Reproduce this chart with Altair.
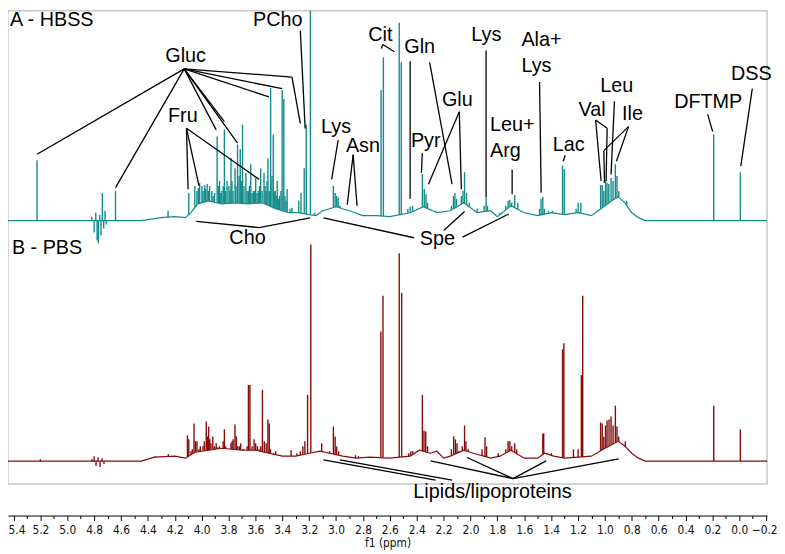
import altair as alt
import numpy as np
import pandas as pd

# ---------------- data (ppm, peak height above spectrum baseline) ----------------
hbss_ppm = [5.225,
            4.817, 4.800, 4.788, 4.778, 4.769, 4.758, 4.749, 4.739, 4.729, 4.719, 4.710,
            4.641, 4.250, 4.096,
            4.051, 4.015, 3.998, 3.978, 3.959, 3.941, 3.924, 3.904, 3.885, 3.867,
            3.850, 3.831, 3.811, 3.797, 3.782, 3.767, 3.752, 3.733, 3.713, 3.696,
            3.671, 3.652, 3.635, 3.615, 3.598, 3.578, 3.561, 3.536, 3.521, 3.507,
            3.487, 3.467, 3.453, 3.438, 3.420, 3.401, 3.389, 3.364, 3.342, 3.328,
            3.305, 3.278, 3.261, 3.237, 3.222, 3.191, 3.158, 3.107,
            3.062, 3.020, 3.007, 2.996, 2.984, 2.970, 2.952, 2.910, 2.878, 2.849, 2.819, 2.775,
            2.665, 2.648, 2.530, 2.515,
            2.466, 2.449, 2.431, 2.418,
            2.358, 2.344, 2.331, 2.319, 2.297,
            2.260, 2.223, 2.186,
            2.142, 2.127, 2.116, 2.105, 2.090, 2.068, 2.056, 2.044, 2.029, 2.009,
            1.950, 1.899, 1.884, 1.873,
            1.781, 1.737, 1.720, 1.707, 1.693, 1.671, 1.648,
            1.486, 1.475, 1.462, 1.450, 1.420, 1.391,
            1.315, 1.302,
            1.214, 1.199, 1.179,
            1.052, 1.032, 1.020, 1.008, 0.995, 0.984, 0.971, 0.954, 0.939, 0.922, 0.910, 0.897,
            0.838, 0.816, 0.765,
            0.190, -0.008,
            4.035, 4.025, 3.990, 3.970, 3.950, 3.915, 3.875, 3.858, 3.840, 3.822,
            3.790, 3.775, 3.745, 3.722, 3.705, 3.685, 3.662, 3.645, 3.625, 3.606,
            3.588, 3.570, 3.550, 3.528, 3.514, 3.497, 3.477, 3.460, 3.445, 3.430,
            3.410, 3.380, 3.372]
hbss_h = [61,
          4, -12, 8, -20, -23, 6, -15, 28, -8, 10, -4,
          30, 10, 28,
          35, 38, 35, 36, 37, 35, 30, 28, 85, 40,
          30, 92, 40, 35, 63, 30, 53, 77, 72, 97,
          48, 30, 57, 30, 43, 30, 53, 48, 30, 63,
          134, 87, 30, 40, 25, 132, 123, 32, 12, 13,
          8, 20, 28, 53, 97, 300, 8, 10,
          8, 35, 28, 25, 23, 15, 10, 5, 4, 5, 4, 3,
          132, 165, 200, 160,
          12, 14, 15, 10,
          47, 32, 27, 18, 12,
          10, 8, 8,
          15, 25, 28, 22, 15, 25, 30, 49, 28, 18,
          12, 15, 23, 15,
          8, 15, 20, 21, 18, 26, 18,
          12, 22, 24, 12, 10, 10,
          56, 52,
          12, 18, 18,
          10, 36, 36, 30, 40, 38, 37, 43, 40, 57, 45, 30,
          20, 12, 5,
          87, 49,
          30, 33, 30, 32, 30, 25, 35, 28, 35, 30,
          30, 40, 35, 45, 40, 35, 30, 35, 28, 30,
          28, 35, 30, 35, 40, 30, 45, 30, 25, 22,
          30, 25, 20]

hbss_base_ppm = [-0.207, 0.60, 0.70, 0.75, 0.80, 0.85, 0.90, 0.95, 1.05, 1.10,
                 1.20, 1.30, 1.40, 1.50, 1.60, 1.70, 1.80, 1.85, 1.95, 2.05,
                 2.15, 2.25, 2.35, 2.45, 2.60, 2.70, 2.80, 2.90, 3.00, 3.10,
                 3.15, 3.20, 3.28, 3.35, 3.45, 3.55, 3.65, 3.75, 3.85, 3.95,
                 4.03, 4.08, 4.12, 4.20, 4.30, 4.40, 4.45, 4.90, 5.441]
hbss_base_h = [0, 0, 0, 3, 8, 18, 24, 20, 10, 5,
               8, 6, 8, 5, 8, 15, 4, 10, 8, 18,
               10, 8, 14, 8, 4, 5, 5, 10, 14, 10,
               5, 6, 8, 8, 12, 18, 17, 18, 17, 20,
               17, 8, 3, 4, 3, 1, 0, 0, 0]

pbs_ppm = [5.200,
           4.815, 4.800, 4.786, 4.771, 4.756, 4.741, 4.727,
           4.344, 4.248,
           4.106, 4.096, 4.057, 4.046, 4.020, 3.990, 3.966, 3.948, 3.931, 3.917,
           3.892, 3.867, 3.850, 3.831, 3.814, 3.782, 3.766, 3.752, 3.733, 3.696,
           3.674, 3.652, 3.641, 3.610, 3.585, 3.571, 3.548, 3.534, 3.507, 3.497,
           3.467, 3.414, 3.335, 3.291, 3.266, 3.247, 3.232, 3.212, 3.188, 3.158,
           3.129, 3.107, 3.085,
           3.048, 3.020, 3.007, 2.996, 2.981, 2.952, 2.930, 2.856, 2.834, 2.805,
           2.667, 2.651, 2.530, 2.512,
           2.459, 2.444, 2.429, 2.418,
           2.358, 2.346, 2.333, 2.319,
           2.260, 2.238,
           2.142, 2.125, 2.112, 2.100, 2.087, 2.061, 2.044, 2.034, 2.017,
           1.914, 1.892, 1.880,
           1.794, 1.737, 1.720, 1.707, 1.693, 1.671, 1.656,
           1.462, 1.455, 1.428, 1.398,
           1.315, 1.305,
           1.234, 1.199, 1.175, 1.165,
           1.032, 1.020, 1.008, 0.995, 0.984, 0.969, 0.954, 0.939, 0.922, 0.910, 0.897,
           0.848, 0.831, 0.750,
           0.190, -0.008,
           4.080, 4.070, 4.035, 4.010, 3.980, 3.958, 3.940, 3.905, 3.880, 3.840,
           3.822, 3.800, 3.774, 3.742, 3.720, 3.710, 3.685, 3.662, 3.625, 3.598,
           3.560, 3.520, 3.488, 3.450]
pbs_h = [2,
         2, 5, -5, 4, -6, 3, -3,
         5, 7,
         26, 22, 38, 20, 12, 15, 40, 35, 18, 25,
         18, 15, 12, 32, 12, 18, 22, 37, 15, 12,
         10, 77, 77, 22, 15, 12, 72, 20, 42, 38,
         8, 5, 11, 8, 10, 15, 20, 67, 219, 8,
         10, 18, 8,
         10, 35, 25, 15, 10, 5, 5, 6, 5, 4,
         131, 167, 210, 170,
         8, 10, 10, 8,
         67, 31, 30, 15,
         10, 8,
         12, 25, 22, 18, 10, 15, 36, 20, 12,
         12, 24, 15,
         8, 12, 20, 20, 15, 18, 12,
         28, 28, 8, 8,
         113, 119,
         12, 12, 87, 167,
         39, 38, 25, 36, 41, 42, 45, 36, 56, 35, 25,
         20, 12, 3,
         56, 32,
         10, 12, 20, 15, 20, 25, 22, 15, 14, 20,
         15, 12, 20, 25, 15, 18, 12, 15, 15, 18,
         15, 18, 12, 10]

pbs_base_ppm = [-0.207, 0.60, 0.70, 0.75, 0.80, 0.85, 0.90, 1.00, 1.10, 1.30,
                1.38, 1.45, 1.50, 1.60, 1.70, 1.78, 1.85, 1.90, 1.98, 2.05,
                2.15, 2.20, 2.25, 2.30, 2.38, 2.45, 2.60, 2.75, 2.85, 2.95,
                3.05, 3.12, 3.20, 3.30, 3.40, 3.50, 3.60, 3.70, 3.85, 3.95,
                4.05, 4.12, 4.20, 4.35, 4.45, 5.441]
pbs_base_h = [0, 0, 0, 3, 8, 15, 20, 13, 5, 3,
              5, 8, 3, 3, 11, 5, 3, 5, 8, 11,
              5, 3, 10, 8, 11, 5, 3, 4, 3, 5,
              8, 10, 8, 5, 5, 8, 11, 11, 13, 11,
              9, 3, 5, 4, 0, 0]

# annotation labels (ppm, intensity units of the plot)
label_c_text = ["Gluc", "Fru", "PCho", "Lys", "Asn", "Cit", "Gln", "Glu", "Pyr", "Lys",
                "Lac", "Val", "Leu", "Ile", "DFTMP", "DSS", "Cho", "Spe", "Lipids/lipoproteins"]
label_c_ppm = [4.119, 4.140, 3.434, 3.000, 2.800, 2.670, 2.378, 2.098, 2.333, 1.882,
               1.269, 1.096, 0.912, 0.794, 0.231, -0.090, 3.659, 2.247, 1.836]
label_c_val = [432.5, 371.5, 468.5, 361, 341, 453.5, 441, 387.5, 346, 454,
               342.5, 377.5, 401.5, 373.5, 385.5, 414, 248, 247, -8]

label_l_text = ["A - HBSS", "B - PBS", "Leu+", "Arg", "Ala+", "Lys"]
label_l_ppm = [5.426, 5.412, 1.855, 1.855, 1.621, 1.621]
label_l_val = [469, 238.5, 362.5, 336.5, 448.5, 422.5]

# leader lines: (ppm1, val1, ppm2, val2)
leaders = [
    (4.130, 419.3, 5.225, 333), (4.130, 419.3, 4.641, 299.3), (4.130, 419.3, 3.892, 357.7),
    (4.130, 419.3, 3.831, 366), (4.130, 419.3, 3.733, 344.3), (4.130, 419.3, 3.499, 391),
    (4.130, 419.3, 3.401, 399.3), (4.130, 419.3, 3.328, 411), (3.328, 411, 3.266, 364.3),
    (4.113, 359.3, 4.101, 297.7), (4.113, 359.3, 4.020, 301), (4.113, 359.3, 3.573, 307.7),
    (3.266, 458, 3.230, 359),
    (2.984, 347.7, 3.033, 307.7),
    (2.873, 332.7, 2.917, 282), (2.873, 332.7, 2.844, 281),
    (2.652, 444, 2.663, 440), (2.652, 444, 2.567, 436.7),
    (2.449, 427, 2.449, 288), (2.304, 426, 2.137, 303),
    (2.083, 376, 2.068, 297.7), (2.083, 376, 2.313, 302.7),
    (2.358, 334.3, 2.365, 314.3),
    (1.884, 438, 1.884, 289.3),
    (1.690, 317.7, 1.690, 292.7),
    (1.486, 406, 1.474, 294.3),
    (1.295, 332, 1.310, 326),
    (1.069, 367.7, 1.028, 306), (1.069, 367.7, 0.983, 359.3), (0.983, 359.3, 0.991, 306),
    (0.929, 386.7, 0.954, 312.7),
    (0.824, 361, 1.008, 336.7), (1.008, 336.7, 1.003, 304.3), (0.824, 361, 0.914, 326),
    (0.235, 373.3, 0.198, 356),
    (-0.097, 399.3, -0.011, 321),
    (3.573, 259, 4.040, 265.3), (3.573, 259, 3.193, 268.7),
    (2.420, 248.7, 3.094, 268.7), (2.199, 256, 2.044, 275.3), (2.059, 249.3, 1.715, 272.7),
    (3.094, 24.3, 2.260, 3.7), (2.972, 24.3, 2.137, 3.7),
    (1.683, 5.3, 2.297, 23.3), (1.683, 5.3, 2.026, 26.7), (1.683, 5.3, 1.437, 23.3),
    (1.683, 5.3, 0.897, 25.3),
]

tick_values = [round(-0.2 + 0.1 * i, 1) for i in range(57)]

# ---------------- layout constants ----------------
HBSS_OFFSET = 266
PBS_OFFSET = 23
TEAL = "#138b8b"
RED = "#860b0b"


def peaks_frame(name, ppm, h, bppm, bh, off):
    base = np.interp(ppm, bppm, bh)
    h = np.array(h, dtype=float)
    lo = np.where(h > 0, np.minimum(base, h), base)
    return pd.DataFrame({"ppm": ppm, "val": off + lo, "val2": off + h, "spectrum": name})


peaks = pd.concat([
    peaks_frame("HBSS", hbss_ppm, hbss_h, hbss_base_ppm, hbss_base_h, HBSS_OFFSET),
    peaks_frame("PBS", pbs_ppm, pbs_h, pbs_base_ppm, pbs_base_h, PBS_OFFSET),
])
base = pd.concat([
    pd.DataFrame({"ppm": hbss_base_ppm, "val": np.array(hbss_base_h) + HBSS_OFFSET, "spectrum": "HBSS"}),
    pd.DataFrame({"ppm": pbs_base_ppm, "val": np.array(pbs_base_h) + PBS_OFFSET, "spectrum": "PBS"}),
])
seg = pd.DataFrame(leaders, columns=["ppm", "val", "ppm2", "val2"])
lab_c = pd.DataFrame({"ppm": label_c_ppm, "val": label_c_val, "text": label_c_text})
lab_l = pd.DataFrame({"ppm": label_l_ppm, "val": label_l_val, "text": label_l_text})

xscale = alt.Scale(domain=[5.441, -0.207], nice=False, zero=False)
yscale = alt.Scale(domain=[0, 478], nice=False, zero=False)
major = "abs(round(datum.value*10)) % 2 == 0"
xaxis = alt.Axis(
    values=tick_values,
    labelExpr=f"{major} ? format(datum.value, '.1f') : ''",
    tickSize={"condition": {"test": major, "value": 5}, "value": 3},
    labelOffset={"condition": [{"test": "datum.value > 5.35", "value": 3},
                               {"test": "datum.value < -0.15", "value": -2}], "value": 0},
    offset=32, grid=False, labelOverlap=False, labelFlush=False,
    domainColor="#000", tickColor="#000", domainWidth=1, tickWidth=1,
    labelFont="DejaVu Sans Condensed, DejaVu Sans", labelFontSize=12, labelColor="#111",
    labelPadding=4,
    title="f1 (ppm)", titleFont="DejaVu Sans Condensed, DejaVu Sans", titleFontSize=12,
    titleFontWeight="normal", titleColor="#111", titlePadding=2,
)
X = alt.X("ppm:Q", scale=xscale, axis=xaxis, title="f1 (ppm)")
Y = alt.Y("val:Q", scale=yscale, axis=None)
color = alt.Color("spectrum:N", scale=alt.Scale(domain=["HBSS", "PBS"], range=[TEAL, RED]), legend=None)

base_layer = alt.Chart(base).mark_line(strokeWidth=1.2).encode(x=X, y=Y, color=color, detail="spectrum:N")
peak_layer = alt.Chart(peaks).mark_rule(strokeWidth=1.4, clip=True).encode(
    x=X, y=Y, y2="val2:Q", color=color)
seg_layer = alt.Chart(seg).mark_rule(color="#000", strokeWidth=1.3).encode(
    x=X, y=Y, x2="ppm2:Q", y2="val2:Q")
text_c = alt.Chart(lab_c).mark_text(font="Liberation Sans", fontSize=20, align="center",
                                    baseline="middle", color="#000").encode(x=X, y=Y, text="text:N")
text_l = alt.Chart(lab_l).mark_text(font="Liberation Sans", fontSize=20, align="left",
                                    baseline="middle", color="#000").encode(x=X, y=Y, text="text:N")

chart = alt.layer(base_layer, peak_layer, seg_layer, text_c, text_l).properties(
    width=767, height=478,
    padding={"left": 0, "top": 0, "right": 10, "bottom": 68},
    autosize=alt.AutoSizeParams(type="none"),
).configure_view(stroke="#c8c8c8", strokeWidth=1.5)

chart.save("out.html", embed_options={"renderer": "svg", "actions": False})
